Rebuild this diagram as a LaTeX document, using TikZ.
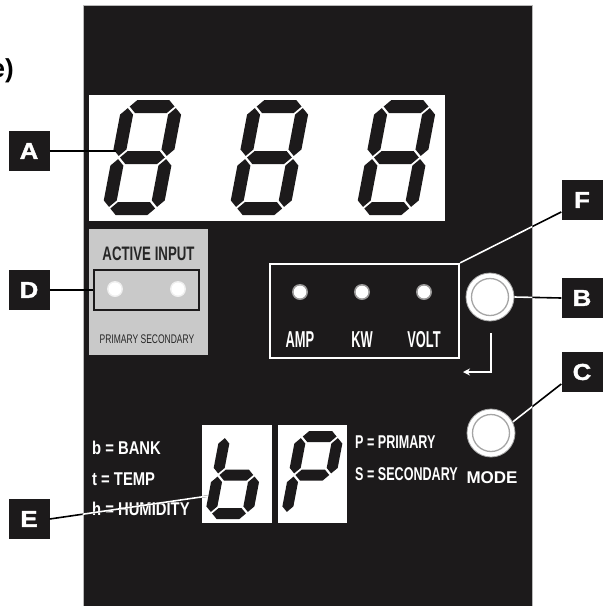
\documentclass[tikz,border=0pt]{standalone}
\usepackage{fontspec}
\setmainfont{Liberation Sans}
\setsansfont{Liberation Sans}
\newfontfamily\narrowfont[FakeStretch=0.68]{Liberation Sans}
\newfontfamily\tallfont[FakeStretch=0.56]{Liberation Sans}
\newfontfamily\semifont[FakeStretch=0.8]{Liberation Sans}
\newfontfamily\widefont[FakeStretch=1.12,FakeBold=1.6]{Liberation Sans}
\usetikzlibrary{arrows.meta}

\definecolor{panelblack}{RGB}{28,26,27}
\definecolor{boxgrey}{RGB}{201,201,201}
\definecolor{ringgrey}{RGB}{165,165,165}

% seven segment pieces, local frame: y up, origin bottom left
\def\sg{1.6}
\newcommand{\hseg}[3]{\fill[segfill] ({#1+\sg},{#3})--({#1+\sg+\st/2},{#3+\st/2})--({#2-\sg-\st/2},{#3+\st/2})--({#2-\sg},{#3})--({#2-\sg-\st/2},{#3-\st/2})--({#1+\sg+\st/2},{#3-\st/2})--cycle;}
\newcommand{\vseg}[3]{\fill[segfill] ({#1},{#2+\sg})--({#1+\st/2},{#2+\sg+\st/2})--({#1+\st/2},{#3-\sg-\st/2})--({#1},{#3-\sg})--({#1-\st/2},{#3-\sg-\st/2})--({#1-\st/2},{#2+\sg+\st/2})--cycle;}
\def\sega{\hseg{\st/2}{\sW-\st/2}{\sH-\st/2}}
\def\segb{\vseg{\sW-\st/2}{\sH/2}{\sH-\st/2}}
\def\segc{\vseg{\sW-\st/2}{\st/2}{\sH/2}}
\def\segd{\hseg{\st/2}{\sW-\st/2}{\st/2}}
\def\sege{\vseg{\st/2}{\st/2}{\sH/2}}
\def\segf{\vseg{\st/2}{\sH/2}{\sH-\st/2}}
\def\segg{\hseg{\st/2}{\sW-\st/2}{\sH/2}}
\newcommand{\sevenseg}[5]{%
\begin{scope}[shift={#1},xslant=0.19,y=1pt]
\def\sW{#2}\def\sH{#3}\def\st{#4}
\foreach \s in {#5}{\csname seg\s\endcsname}
\end{scope}}

\begin{document}
\begin{tikzpicture}[x=1pt,y=-1pt,
tag/.style={fill=panelblack,text=white,font=\widefont\bfseries\fontsize{23}{23}\selectfont,minimum width=41pt,minimum height=40pt,inner sep=0pt},
lead/.style={line width=1.6pt},
segfill/.style={fill=panelblack},
panel/.style={fill=panelblack,draw=gray!55,line width=0.8pt,inner sep=0pt},
window/.style={fill=white,inner sep=0pt},
button/.style={circle,fill=white,draw=ringgrey,line width=0.8pt,minimum size=48pt,inner sep=0pt,
  path picture={\draw[ringgrey,line width=1.3pt] (path picture bounding box.center) circle[radius=18.5pt];}},
ledtext/.style={text=white,font=\tallfont\bfseries\fontsize{23}{23}\selectfont,anchor=base,inner sep=0pt},
keytext/.style={text=white,font=\narrowfont\bfseries\fontsize{18.5}{18.5}\selectfont,anchor=base west,inner sep=0pt},
codetext/.style={text=white,font=\semifont\bfseries\fontsize{18.5}{18.5}\selectfont,anchor=base west,inner sep=0pt}]
\useasboundingbox (0,0) rectangle (606,606);
\clip (0,0) rectangle (606,606);

\node[font=\bfseries\fontsize{26}{26}\selectfont,anchor=base east,inner sep=0pt] (part) at (14,77) {e)};

\node[panel,minimum width=449pt,minimum height=615pt] (panel) at (307.5,312.5) {};

% top display
\node[window,minimum width=356pt,minimum height=126pt] (disp) at (267,158) {};
\foreach \x in {101,228,355}
  \sevenseg{(\x,215)}{61}{115}{13}{a,b,c,d,e,f,g};
\coordinate (dA) at (116,151);

% active input
\node[fill=boxgrey,inner sep=0pt,minimum width=119pt,minimum height=126pt] (actbox) at (148.5,292) {};
\node[draw=panelblack,line width=2pt,inner sep=0pt,minimum width=105pt,minimum height=40pt] (actin) at (146.5,290) {};
\node[font=\narrowfont\bfseries\fontsize{19.5}{19.5}\selectfont,text=black!85,anchor=base,inner sep=0pt] (acttitle) at (148.5,260) {ACTIVE INPUT};
\node[font=\narrowfont\fontsize{12.5}{12.5}\selectfont,text=black!85,anchor=base,inner sep=0pt] (actsub) at (147,343) {PRIMARY SECONDARY};
\foreach \x in {115,178}{
  \fill[white!70!boxgrey] (\x,289) circle[radius=8pt];
  \fill[white] (\x,289) circle[radius=6.5pt];}

% indicator leds
\node[draw=white,line width=2.2pt,inner sep=0pt,minimum width=189pt,minimum height=94pt] (ind) at (364.5,311) {};
\foreach \x/\t in {300/AMP,362/KW,424/VOLT}{
  \fill[white!55!panelblack] (\x,292) circle[radius=8pt];
  \fill[white] (\x,292) circle[radius=6.3pt];
  \node[ledtext] (led\t) at (\x,347) {\t};}

% buttons
\node[button] (btnB) at (490,297) {};
\draw[white,line width=2pt,-{Stealth[length=7pt,width=7pt]}] (491,333) |- (463,372);
\node[button] (btnC) at (491,433) {};
\node[text=white,font=\bfseries\fontsize{17}{17}\selectfont,anchor=base,inner sep=0pt] (mode) at (492,483) {MODE};

% bottom display
\node[codetext] (bank) at (92,454) {b = BANK};
\node[codetext] (temp) at (92,485) {t = TEMP};
\node[codetext] (hum) at (92,515) {h = HUMIDITY};
\node[window,minimum width=70pt,minimum height=98pt] (boxb) at (237,474) {};
\node[window,minimum width=69pt,minimum height=98pt] (boxP) at (312.5,474) {};
\sevenseg{(204,519)}{48}{88}{11}{c,d,e,f,g}
\sevenseg{(280,519)}{48}{88}{11}{a,b,e,f,g}
\coordinate (dE) at (208,496);
\node[keytext] (prim) at (355,448) {P = PRIMARY};
\node[keytext] (sec) at (355,480) {S = SECONDARY};

% callouts
\node[tag] (A) at (29,151) {A};
\node[tag] (D) at (29,290) {D};
\node[tag] (E) at (29,519) {E};
\node[tag] (F) at (582,200) {F};
\node[tag] (B) at (582,298) {B};
\node[tag] (C) at (582,372) {C};
\draw[lead] (A.east)--(dA);
\draw[lead] (D.east)--(actin.west);
\draw[lead] (E.east)--(dE);
\draw[lead] (F.-150)--(ind.north east);
\draw[lead] (B.west)--(btnB.east);
\draw[lead] (C.-150)--(btnC.27);
\begin{scope}
\clip (panel.north west) rectangle (panel.south east);
\draw[lead,white] (E.east)--(dE);
\draw[lead,white] (F.-150)--(ind.north east);
\draw[lead,white] (B.west)--(btnB.east);
\draw[lead,white] (C.-150)--(btnC.27);
\end{scope}
\end{tikzpicture}
\end{document}
